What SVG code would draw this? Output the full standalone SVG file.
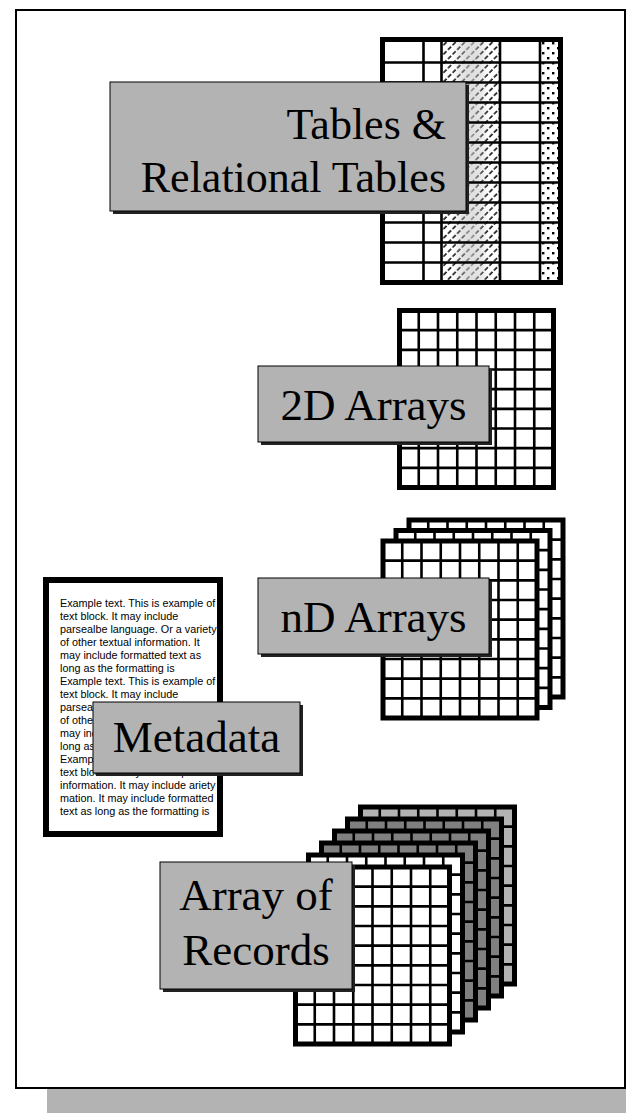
<svg xmlns="http://www.w3.org/2000/svg" width="626" height="1113" viewBox="0 0 626 1113">
<style>
.lbl{fill:#b3b3b3;stroke:#000;stroke-width:1}
.shd{fill:#222}
.big{font-family:"Liberation Serif","Times New Roman",serif;font-size:45px;fill:#000}
.small{font-family:"Liberation Sans",Arial,sans-serif;font-size:10.8px;fill:#000}
.thin{stroke:#000;stroke-width:2.6;fill:none}
</style>
<defs>
<pattern id="hatch" patternUnits="userSpaceOnUse" width="6.5" height="6.5" patternTransform="rotate(45)">
<line x1="1" y1="0" x2="1" y2="6.5" stroke="#000" stroke-width="1.5" stroke-dasharray="4.5 2"/>
</pattern>
<linearGradient id="hgray" x1="0" y1="0" x2="1" y2="0">
<stop offset="0.2" stop-color="#fff" stop-opacity="0"/>
<stop offset="0.5" stop-color="#fff" stop-opacity="0.55"/>
<stop offset="0.8" stop-color="#fff" stop-opacity="0"/>
</linearGradient>
<linearGradient id="hgray2" x1="0" y1="0" x2="1" y2="0">
<stop offset="0.2" stop-color="#fff"/>
<stop offset="0.5" stop-color="#bbb"/>
<stop offset="0.8" stop-color="#fff"/>
</linearGradient>
<pattern id="dots" patternUnits="userSpaceOnUse" width="10" height="10">
<rect x="2" y="2" width="2.4" height="2.4" fill="#000"/>
<rect x="7" y="7" width="2.4" height="2.4" fill="#000"/>
</pattern>
<g id="grid">
<rect x="0" y="0" width="154" height="177"/>
<path class="thin" d="M19.25 0V177M38.5 0V177M57.75 0V177M77 0V177M96.25 0V177M115.5 0V177M134.75 0V177M0 19.67H154M0 39.33H154M0 59H154M0 78.67H154M0 98.33H154M0 118H154M0 137.67H154M0 157.33H154"/>
<rect x="0" y="0" width="154" height="177" fill="none" stroke="#000" stroke-width="5"/>
</g>
</defs>

<g id="frame">
<rect x="47" y="40" width="600" height="1073" fill="#b3b3b3"/>
<rect x="16" y="10" width="609" height="1078" fill="#fff" stroke="#000" stroke-width="2"/>
</g>

<g id="connectors"></g>

<g id="tables">
<rect x="382.5" y="39.5" width="178" height="243" fill="#fff"/>
<rect x="441.5" y="42" width="58.5" height="241" fill="url(#hgray2)"/>
<rect x="441.5" y="42" width="58.5" height="241" fill="url(#hatch)"/>
<rect x="441.5" y="42" width="58.5" height="241" fill="url(#hgray)"/>
<rect x="540" y="42" width="21" height="241" fill="url(#dots)"/>
<path class="thin" d="M423.5 40V283M441.5 40V283M500 40V283M540 40V283M382 62.5H561M382 82.5H561M382 102.5H561M382 122.5H561M382 142.5H561M382 162.5H561M382 182.5H561M382 202.5H561M382 222.5H561M382 242.5H561M382 262.5H561"/>
<rect x="382.5" y="39.5" width="178" height="243" fill="none" stroke="#000" stroke-width="5"/>
</g>

<g id="tables-label">
<rect class="shd" x="113" y="85" width="356" height="129"/>
<rect class="lbl" x="110" y="82" width="356" height="129"/>
<text class="big" style="font-size:44px" x="446" y="139" text-anchor="end">Tables &amp;</text>
<text class="big" style="font-size:44px" x="446" y="192" text-anchor="end">Relational Tables</text>
</g>

<g id="arrays-2d">
<use href="#grid" x="399.5" y="310.5" fill="#fff"/>
</g>
<g id="arrays-2d-label">
<rect class="shd" x="261" y="369" width="231" height="76"/>
<rect class="lbl" x="258" y="366" width="231" height="76"/>
<text class="big" x="373.5" y="420" text-anchor="middle">2D Arrays</text>
</g>

<g id="arrays-nd">
<use href="#grid" x="409" y="520" fill="#fff"/>
<use href="#grid" x="396" y="530.5" fill="#fff"/>
<use href="#grid" x="383" y="541" fill="#fff"/>
</g>
<g id="arrays-nd-label">
<rect class="shd" x="261" y="581" width="231" height="76"/>
<rect class="lbl" x="258" y="578" width="231" height="76"/>
<text class="big" x="373.5" y="632" text-anchor="middle">nD Arrays</text>
</g>

<g id="metadata">
<rect x="46" y="580" width="174" height="254" fill="#fff" stroke="#000" stroke-width="6"/>
<text class="small" x="60" y="607">Example text. This is example of</text>
<text class="small" x="60" y="620">text block. It may include</text>
<text class="small" x="60" y="633">parsealbe language. Or a variety</text>
<text class="small" x="60" y="646">of other textual information. It</text>
<text class="small" x="60" y="659">may include formatted text as</text>
<text class="small" x="60" y="672">long as the formatting is</text>
<text class="small" x="60" y="685">Example text. This is example of</text>
<text class="small" x="60" y="698">text block. It may include</text>
<text class="small" x="60" y="711">parseal</text>
<text class="small" x="60" y="724">of other</text>
<text class="small" x="60" y="737">may inc</text>
<text class="small" x="60" y="750">long as</text>
<text class="small" x="60" y="763">Examp</text>
<text class="small" x="60" y="776">text block. It may include par</text>
<text class="small" x="60" y="789">information. It may include ariety</text>
<text class="small" x="60" y="802">mation. It may include formatted</text>
<text class="small" x="60" y="815">text as long as the formatting is</text>
</g>
<g id="metadata-label">
<rect class="shd" x="96" y="705" width="207" height="71"/>
<rect class="lbl" x="93" y="702" width="207" height="71"/>
<text class="big" x="196.5" y="752" text-anchor="middle">Metadata</text>
</g>

<g id="records">
<use href="#grid" x="360.5" y="807" fill="#b3b3b3"/>
<use href="#grid" x="347.5" y="819" fill="#808080"/>
<use href="#grid" x="334.5" y="831" fill="#808080"/>
<use href="#grid" x="321.5" y="843" fill="#808080"/>
<use href="#grid" x="308.5" y="855" fill="#fff"/>
<use href="#grid" x="295.5" y="867" fill="#fff"/>
</g>
<g id="records-label">
<rect class="shd" x="163" y="865" width="192" height="127"/>
<rect class="lbl" x="160" y="862" width="192" height="127"/>
<text class="big" x="256" y="910" text-anchor="middle">Array of</text>
<text class="big" x="256" y="965" text-anchor="middle">Records</text>
</g>
</svg>
